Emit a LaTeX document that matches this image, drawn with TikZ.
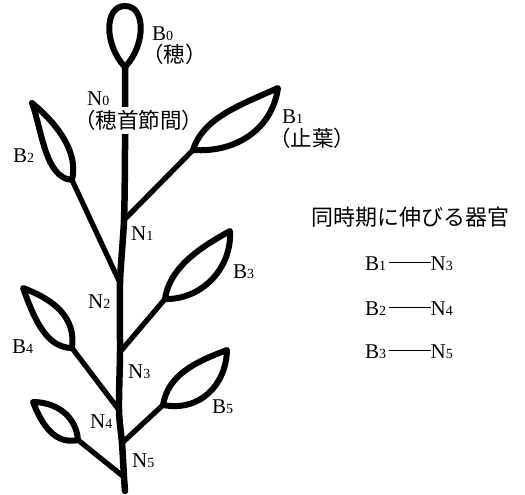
\documentclass[tikz,border=0pt]{standalone}
\usepackage{fontspec}
\setmainfont{Liberation Serif}
\newfontfamily\jpfont{Noto Sans CJK JP}
% small digit sitting on the baseline, used as an index
\newcommand\idx[1]{{\fontsize{14}{14}\selectfont #1}}
% short rule joining the two organ names in the list
\newcommand\pairrule{\hspace{2.5pt}\rule[7pt]{42pt}{0.8pt}}

\tikzset{
  stemline/.style={line width=6.5pt, line cap=round, line join=round},
  leafline/.style={line width=6pt, line join=round, line cap=round},
  branchline/.style={line width=5.2pt, line cap=round},
  lbl/.style={inner sep=0pt, anchor=base west, font=\fontsize{21}{21}\selectfont},
  jplbl/.style={inner sep=0pt, anchor=base west, font=\jpfont\fontsize{21.5}{21.5}\selectfont},
}

\begin{document}
\begin{tikzpicture}[x=1pt, y=-1pt]
\useasboundingbox (0,0) rectangle (525,495);

% junctions on the stem
\coordinate (top) at (125,67);
\coordinate (n1) at (124,220);
\coordinate (n2) at (120,283);
\coordinate (n3) at (120,352);
\coordinate (n4) at (119,410);
\coordinate (n5) at (122,443);
\coordinate (n6) at (124,477);
\coordinate (foot) at (125,491);

% leaf bases and tips
\coordinate (b1base) at (193,150); \coordinate (b1tip) at (278,88);
\coordinate (b2base) at (72,180);  \coordinate (b2tip) at (32,103);
\coordinate (b3base) at (165,299); \coordinate (b3tip) at (230,231);
\coordinate (b4base) at (72,348);  \coordinate (b4tip) at (23,288);
\coordinate (b5base) at (163,405); \coordinate (b5tip) at (227,350);
\coordinate (b6base) at (78,440);  \coordinate (b6tip) at (33,402);

% main stem
\draw[stemline] plot[smooth, tension=0.5] coordinates
  {(125,67) (125,150) (124,220) (120,283) (120,352) (119,410) (122,443) (124,477) (125,491)};

% ear (spike) on top of the stem
\draw[leafline] (top) .. controls (104,45) and (104,6) .. (125,6)
                      .. controls (146,6) and (146,45) .. (top);

% side branches
\draw[branchline] (n1) -- (b1base);
\draw[branchline] (b2base) -- (n2);
\draw[branchline] (n3) -- (b3base);
\draw[branchline] (b4base) -- (n4);
\draw[branchline] (n5) -- (b5base);
\draw[branchline] (b6base) -- (n6);

% leaf blades
\draw[leafline] (b1base) .. controls (203,118) and (240,105) .. (b1tip)
                         .. controls (272,130) and (235,153) .. (b1base);
\draw[leafline] (b2base) .. controls (45,178) and (42,130) .. (b2tip)
                         .. controls (62,128) and (78,155) .. (b2base);
\draw[leafline] (b3base) .. controls (170,265) and (205,245) .. (b3tip)
                         .. controls (232,270) and (200,300) .. (b3base);
\draw[leafline] (b4base) .. controls (45,348) and (33,315) .. (b4tip)
                         .. controls (55,300) and (76,318) .. (b4base);
\draw[leafline] (b5base) .. controls (168,375) and (195,362) .. (b5tip)
                         .. controls (226,385) and (200,412) .. (b5base);
\draw[leafline] (b6base) .. controls (76,415) and (55,402) .. (b6tip)
                         .. controls (42,425) and (55,445) .. (b6base);

% labels of blades and internodes
\node[lbl] (lb0) at (152,41) {B\idx{0}};
\node[jplbl] (lb0j) at (142,63) {（穂）};
\node[lbl] (ln0) at (87,105) {N\idx{0}};
% this label sits over the stem; a white band (narrower than the text box) masks it
\node[jplbl, fill=white, inner xsep=-10pt, inner ysep=3pt] (ln0j) at (84,128.5) {（穂首節間）};
\node[lbl] (lb1) at (282,123) {B\idx{1}};
\node[jplbl] (lb1j) at (269,146.5) {（止葉）};
\node[lbl] (lb2) at (13,162) {B\idx{2}};
\node[lbl] (ln1) at (131,240) {N\idx{1}};
\node[lbl] (lb3) at (233,278) {B\idx{3}};
\node[lbl] (ln2) at (88,308) {N\idx{2}};
\node[lbl] (lb4) at (12,353) {B\idx{4}};
\node[lbl] (ln3) at (128,378) {N\idx{3}};
\node[lbl] (ln4) at (90,428) {N\idx{4}};
\node[lbl] (lb5) at (212,413) {B\idx{5}};
\node[lbl] (ln5) at (132,467) {N\idx{5}};

% list of organs that elongate at the same time
\node[jplbl, font=\jpfont\fontsize{22}{22}\selectfont] (head) at (311,225.5) {同時期に伸びる器官};
\node[lbl] (p1) at (365,270) {B\idx{1}\pairrule N\idx{3}};
\node[lbl] (p2) at (365,315) {B\idx{2}\pairrule N\idx{4}};
\node[lbl] (p3) at (365,358) {B\idx{3}\pairrule N\idx{5}};
\end{tikzpicture}
\end{document}
